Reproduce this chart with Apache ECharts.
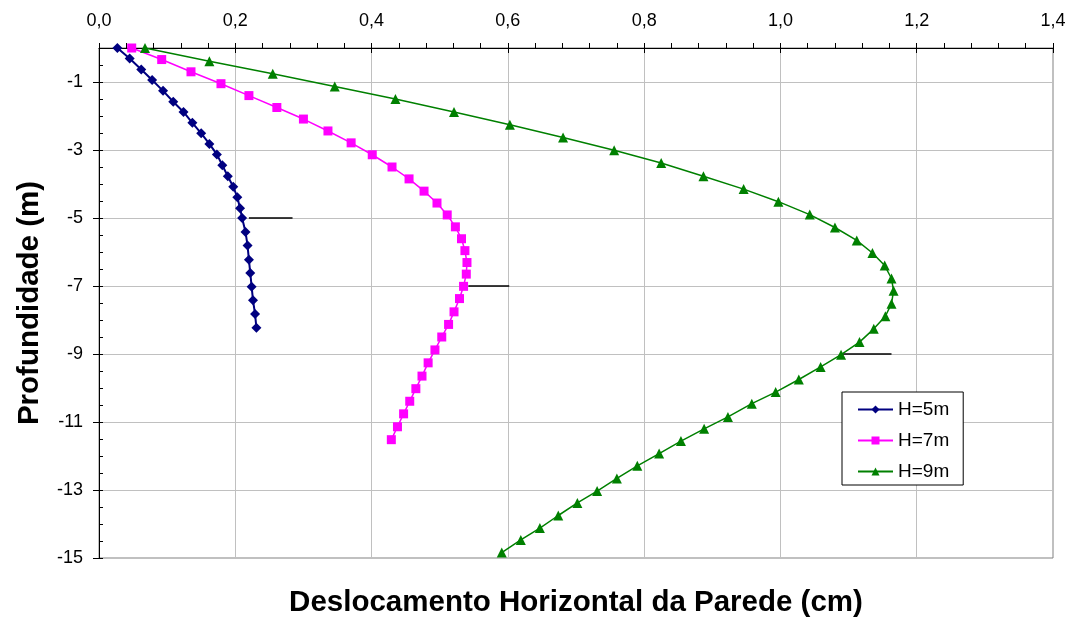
<!DOCTYPE html>
<html>
<head>
<meta charset="utf-8">
<script src="https://cdn.jsdelivr.net/npm/echarts@6/dist/echarts.min.js"></script>
<style>
  html, body { margin: 0; padding: 0; background: #fff; }
  #chart { width: 1071px; height: 622px; }
</style>
</head>
<body>
<div id="chart"></div>
<script>
// Horizontal wall displacement (cm) vs depth (m) for three excavation heights
const seriesNames = ['H=5m', 'H=7m', 'H=9m'];

const depth5 = [0, -0.31, -0.63, -0.94, -1.26, -1.58, -1.88, -2.2, -2.51, -2.82, -3.13, -3.45, -3.77, -4.08, -4.39, -4.71, -5.0, -5.41, -5.81, -6.23, -6.62, -7.02, -7.42, -7.82, -8.23];
const disp5 = [0.027, 0.045, 0.062, 0.078, 0.094, 0.109, 0.124, 0.137, 0.150, 0.162, 0.173, 0.181, 0.189, 0.197, 0.203, 0.207, 0.210, 0.215, 0.218, 0.220, 0.222, 0.224, 0.226, 0.229, 0.231];

const depth7 = [0, -0.34, -0.70, -1.05, -1.40, -1.75, -2.09, -2.44, -2.79, -3.14, -3.50, -3.85, -4.21, -4.56, -4.91, -5.26, -5.61, -5.96, -6.31, -6.65, -7.01, -7.37, -7.76, -8.13, -8.50, -8.88, -9.26, -9.65, -10.02, -10.39, -10.76, -11.14, -11.52];
const disp7 = [0.048, 0.092, 0.135, 0.179, 0.220, 0.261, 0.300, 0.336, 0.370, 0.401, 0.430, 0.455, 0.477, 0.496, 0.511, 0.523, 0.532, 0.537, 0.540, 0.539, 0.535, 0.529, 0.521, 0.513, 0.503, 0.493, 0.483, 0.474, 0.465, 0.456, 0.447, 0.438, 0.429];

const depth9 = [0, -0.39, -0.76, -1.13, -1.50, -1.88, -2.26, -2.63, -3.01, -3.38, -3.77, -4.15, -4.52, -4.90, -5.28, -5.66, -6.03, -6.40, -6.78, -7.14, -7.52, -7.89, -8.26, -8.65, -9.02, -9.38, -9.75, -10.12, -10.46, -10.85, -11.20, -11.56, -11.93, -12.29, -12.66, -13.03, -13.38, -13.75, -14.12, -14.47, -14.84];
const disp9 = [0.0675, 0.162, 0.255, 0.346, 0.435, 0.521, 0.603, 0.681, 0.756, 0.825, 0.887, 0.946, 0.997, 1.043, 1.080, 1.112, 1.135, 1.153, 1.163, 1.166, 1.163, 1.154, 1.137, 1.116, 1.089, 1.059, 1.027, 0.993, 0.958, 0.923, 0.888, 0.854, 0.822, 0.790, 0.760, 0.731, 0.702, 0.674, 0.647, 0.619, 0.591];

// Short black markers at the bottom of each excavation stage: [x from, x to, depth]
const stageMarks = [
  [0.220, 0.284, -5],
  [0.542, 0.602, -7],
  [1.091, 1.163, -9]
];

const xTitle = 'Deslocamento Horizontal da Parede (cm)';
const yTitle = 'Profundidade (m)';

const FONT = '"Liberation Sans", Arial, sans-serif';
const NARROW = '"Liberation Sans Narrow", "Arial Narrow", "Liberation Sans", Arial, sans-serif';

function pairs(xs, ys) { return xs.map((x, i) => [x, ys[i]]); }

const chart = echarts.init(document.getElementById('chart'), null, { renderer: 'canvas' });

const curveStyles = [
  { color: '#000080', symbol: 'diamond', size: 10, width: 2 },
  { color: '#FF00FF', symbol: 'rect', size: 9, width: 1.5 },
  { color: '#008000', symbol: 'triangle', size: 10, width: 1.5 }
];
const curveData = [pairs(disp5, depth5), pairs(disp7, depth7), pairs(disp9, depth9)];

const series = seriesNames.map((name, i) => ({
  name,
  type: 'line',
  data: curveData[i],
  xAxisIndex: 0,
  yAxisIndex: 0,
  symbol: curveStyles[i].symbol,
  symbolSize: curveStyles[i].size,
  showAllSymbol: true,
  lineStyle: { color: curveStyles[i].color, width: curveStyles[i].width },
  itemStyle: { color: curveStyles[i].color },
  emphasis: { disabled: true },
  animation: false,
  z: 3 + i
}));

stageMarks.forEach(([x0, x1, d]) => {
  series.push({
    type: 'line',
    data: [[x0, d], [x1, d]],
    symbol: 'none',
    lineStyle: { color: '#000', width: 1.5 },
    emphasis: { disabled: true },
    animation: false,
    z: 2
  });
});

const option = {
  backgroundColor: '#fff',
  animation: false,
  grid: {
    left: 99, right: 18, top: 48, bottom: 64,
    show: true, borderColor: '#808080', borderWidth: 1, backgroundColor: 'transparent'
  },
  legend: {
    data: seriesNames,
    orient: 'vertical',
    left: 842, top: 392,
    backgroundColor: '#fff',
    borderColor: '#000', borderWidth: 1,
    padding: [8, 14, 4, 15],
    itemWidth: 35, itemHeight: 10, itemGap: 12,
    textStyle: { fontFamily: FONT, fontSize: 19, color: '#000' },
    selectedMode: false
  },
  xAxis: [
    {
      type: 'value', position: 'top', min: 0, max: 1.4, interval: 0.2,
      axisLine: { show: true, onZero: false, lineStyle: { color: '#000', width: 1 } },
      axisTick: { show: true, inside: false, length: 5, lineStyle: { color: '#000' } },
      minorTick: { show: true, splitNumber: 5, length: 5, lineStyle: { color: '#000' } },
      axisLabel: {
        margin: 18, fontFamily: NARROW, fontSize: 18, color: '#000',
        formatter: v => v.toFixed(1).replace('.', ',')
      },
      splitLine: { show: true, lineStyle: { color: '#c0c0c0', width: 1 } }
    },
    {
      // inner half of the crossing major ticks
      type: 'value', position: 'top', min: 0, max: 1.4, interval: 0.2,
      axisLine: { show: false },
      axisTick: { show: true, inside: true, length: 5, lineStyle: { color: '#000' } },
      axisLabel: { show: false },
      splitLine: { show: false }
    }
  ],
  yAxis: [
    {
      type: 'value', min: -15, max: 0, interval: 2,
      axisLine: { show: true, onZero: false, lineStyle: { color: '#000', width: 1 } },
      axisTick: { show: true, inside: false, length: 6, lineStyle: { color: '#000' } },
      axisLabel: {
        margin: 16, fontFamily: FONT, fontSize: 18, color: '#000',
        showMaxLabel: false,
        formatter: v => String(v)
      },
      splitLine: { show: true, lineStyle: { color: '#c0c0c0', width: 1 } }
    },
    {
      // inner ticks every half metre
      type: 'value', position: 'left', min: -15, max: 0, interval: 0.5,
      axisLine: { show: false },
      axisTick: { show: true, inside: true, length: 4, lineStyle: { color: '#000' } },
      axisLabel: { show: false },
      splitLine: { show: false }
    }
  ],
  graphic: [
    {
      type: 'text', x: 576, y: 603,
      style: {
        text: xTitle, fontFamily: FONT, fontWeight: 'bold', fontSize: 29.5,
        fill: '#000', textAlign: 'center', textVerticalAlign: 'middle'
      }
    },
    {
      type: 'text', x: 30, y: 303, rotation: Math.PI / 2,
      style: {
        text: yTitle, fontFamily: FONT, fontWeight: 'bold', fontSize: 29.5,
        fill: '#000', textAlign: 'center', textVerticalAlign: 'middle'
      }
    }
  ],
  series
};

chart.setOption(option);
</script>
</body>
</html>
